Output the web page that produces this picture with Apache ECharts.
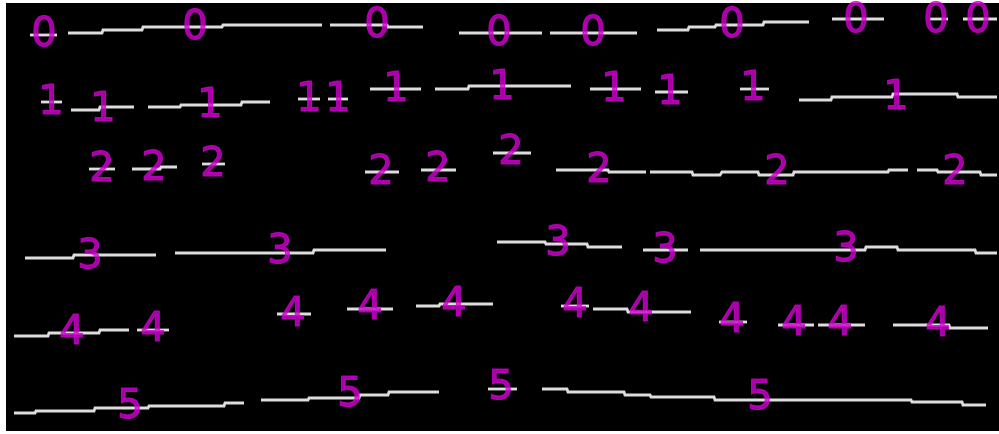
<!DOCTYPE html>
<html>
<head>
<meta charset="utf-8">
<script src="https://cdn.jsdelivr.net/npm/echarts@6/dist/echarts.min.js"></script>
<style>
  html, body { margin: 0; padding: 0; background: #fff; }
  #chart { width: 999px; height: 434px; }
</style>
</head>
<body>
<div id="chart"></div>
<script>
// Detected text lines in page-pixel coordinates.
// Each line is a list of runs; each run is a list of [xStart, xEnd, y] pieces.
const lineIds = ['0', '1', '2', '3', '4', '5'];

const line0Runs = [
  [[30, 57, 35]],
  [[68, 102, 33], [103, 142, 30], [143, 222, 27], [223, 322, 25]],
  [[330, 387, 25], [388, 423, 27]],
  [[459, 542, 33]],
  [[550, 637, 33]],
  [[657, 688, 30], [689, 715, 27], [716, 763, 25], [764, 809, 22]],
  [[832, 884, 19]],
  [[930, 948, 19]],
  [[963, 997, 19]]
];
const line1Runs = [
  [[41, 62, 102]],
  [[71, 99, 110], [100, 134, 107]],
  [[148, 180, 107], [181, 241, 105], [242, 270, 102]],
  [[298, 320, 99]],
  [[328, 348, 99]],
  [[370, 421, 89]],
  [[435, 468, 89], [469, 571, 86]],
  [[590, 641, 89]],
  [[655, 688, 92]],
  [[740, 769, 89]],
  [[799, 831, 100], [832, 892, 97], [893, 957, 94], [958, 997, 97]]
];
const line2Runs = [
  [[89, 115, 169]],
  [[132, 160, 169], [161, 177, 167]],
  [[202, 225, 164]],
  [[365, 399, 172]],
  [[421, 456, 170]],
  [[493, 531, 153]],
  [[556, 608, 170], [609, 646, 172]],
  [[650, 692, 172], [693, 720, 175], [722, 758, 172], [759, 793, 175], [794, 888, 172], [889, 908, 170]],
  [[917, 937, 170], [938, 980, 172], [981, 997, 175]]
];
const line3Runs = [
  [[25, 73, 258], [74, 156, 255]],
  [[175, 313, 253], [314, 386, 250]],
  [[497, 545, 242], [546, 587, 244], [588, 622, 247]],
  [[643, 688, 250]],
  [[700, 865, 250], [866, 897, 247], [898, 975, 250], [976, 997, 253]]
];
const line4Runs = [
  [[14, 48, 336], [49, 99, 333], [100, 129, 330]],
  [[137, 169, 330]],
  [[277, 311, 314]],
  [[347, 393, 309]],
  [[416, 439, 306], [440, 493, 304]],
  [[561, 589, 306]],
  [[593, 627, 309], [628, 691, 312]],
  [[719, 747, 322]],
  [[778, 814, 325]],
  [[818, 865, 325]],
  [[893, 949, 325], [950, 988, 328]]
];
const line5Runs = [
  [[14, 35, 413], [36, 94, 411], [95, 148, 408], [149, 224, 406], [225, 244, 403]],
  [[261, 308, 400], [309, 359, 398], [360, 388, 395], [389, 439, 392]],
  [[488, 517, 389]],
  [[542, 567, 389], [568, 624, 392], [625, 650, 395], [651, 714, 397], [715, 911, 400], [912, 962, 402], [963, 986, 405]]
];

// Where each line's id is printed (glyph centres).
const line0Labels = [[44, 32], [195, 25], [377, 23], [499, 31], [593, 31], [732, 23], [856, 18], [936, 18], [978, 18]];
const line1Labels = [[51, 100], [103, 107], [210, 103], [309, 97], [338, 97], [396, 87], [502, 85], [614, 87], [670, 90], [753, 86], [896, 95]];
const line2Labels = [[102, 167], [154, 166], [213, 162], [381, 170], [438, 167], [511, 150], [599, 168], [777, 170], [955, 170]];
const line3Labels = [[90, 254], [280, 249], [558, 241], [665, 248], [846, 247]];
const line4Labels = [[72, 330], [153, 327], [293, 312], [370, 305], [454, 302], [575, 303], [641, 307], [732, 318], [794, 321], [840, 321], [938, 322]];
const line5Labels = [[130, 404], [350, 392], [501, 385], [760, 395]];

const allRuns = [line0Runs, line1Runs, line2Runs, line3Runs, line4Runs, line5Runs];
const allLabels = [line0Labels, line1Labels, line2Labels, line3Labels, line4Labels, line5Labels];

// Flatten every run so a single custom series can draw them all as polylines.
const runList = [];
allRuns.forEach(function (runs) {
  runs.forEach(function (run) { runList.push(run); });
});

const series = [{
  type: 'custom',
  silent: true,
  z: 2,
  data: runList.map(function (run, i) { return [run[0][0], run[0][2], i]; }),
  encode: { x: 0, y: 1 },
  renderItem: function (params, api) {
    const run = runList[api.value(2)];
    const pts = [];
    run.forEach(function (p) {
      pts.push(api.coord([p[0], p[2]]));
      pts.push(api.coord([p[1], p[2]]));
    });
    return {
      type: 'polyline',
      shape: { points: pts },
      style: { stroke: '#dddddd', lineWidth: 2.8, fill: null, lineJoin: 'miter' }
    };
  }
}];

allLabels.forEach(function (labels, i) {
  series.push({
    type: 'scatter',
    data: labels,
    symbolSize: 1,
    itemStyle: { color: 'rgba(0,0,0,0)' },
    silent: true,
    z: 5,
    label: {
      show: true,
      position: 'inside',
      offset: [0, 4],
      formatter: lineIds[i],
      color: '#d000d0',
      textBorderColor: '#d000d0',
      textBorderWidth: 1.1,
      fontFamily: 'DejaVu Sans',
      fontSize: 40,
      fontWeight: 'normal'
    }
  });
});

const chart = echarts.init(document.getElementById('chart'), null, { renderer: 'canvas' });
chart.setOption({
  animation: false,
  backgroundColor: '#ffffff',
  grid: {
    left: 6, top: 3, right: 0, bottom: 3,
    show: true, backgroundColor: '#000000', borderWidth: 0
  },
  xAxis: {
    type: 'value', min: 6, max: 999,
    show: false
  },
  yAxis: {
    type: 'value', min: 3, max: 431, inverse: true,
    show: false
  },
  series: series
});
</script>
</body>
</html>
